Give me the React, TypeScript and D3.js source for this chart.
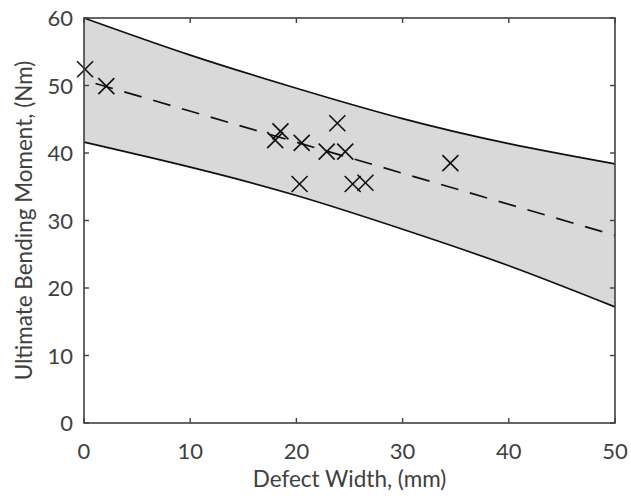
import React from "react";
import * as d3 from "d3";

const bandX = [0, 10, 20, 30, 40, 50];
const upperBound = [60, 54.5, 49.6, 45.1, 41.4, 38.4];
const lowerBound = [41.6, 37.9, 33.7, 28.7, 23.3, 17.2];
const fitX = [0, 50];
const fitY = [50.8, 27.8];
const pointsX = [0.1, 2.1, 18.0, 18.5, 20.5, 23.85, 22.85, 24.6, 20.3, 25.3, 26.5, 34.5];
const pointsY = [52.4, 49.9, 41.9, 43.2, 41.5, 44.4, 40.2, 40.2, 35.4, 35.4, 35.6, 38.5];
const xTicks = [0, 10, 20, 30, 40, 50];
const yTicks = [0, 10, 20, 30, 40, 50, 60];

const W = 631;
const H = 500;
const left = 84;
const right = 615;
const top = 18;
const bottom = 423;

export default function App() {
  const x = d3.scaleLinear().domain([0, 50]).range([left, right]);
  const y = d3.scaleLinear().domain([0, 60]).range([bottom, top]);

  const bandData = bandX.map((v, i) => ({ x: v, lo: lowerBound[i], hi: upperBound[i] }));
  const area = d3
    .area<{ x: number; lo: number; hi: number }>()
    .x((d) => x(d.x))
    .y0((d) => y(d.lo))
    .y1((d) => y(d.hi))
    .curve(d3.curveNatural);
  const upLine = d3
    .line<{ x: number; lo: number; hi: number }>()
    .x((d) => x(d.x))
    .y((d) => y(d.hi))
    .curve(d3.curveNatural);
  const loLine = d3
    .line<{ x: number; lo: number; hi: number }>()
    .x((d) => x(d.x))
    .y((d) => y(d.lo))
    .curve(d3.curveNatural);
  const fitLine = d3
    .line<number>()
    .x((d, i) => x(fitX[i]))
    .y((d) => y(d));

  const axisColor = "#404040";
  const textColor = "#404040";
  const font = "Lato, 'Open Sans', sans-serif";
  const fs = 22.5;
  const tfs = 22;
  const tick = 5;
  const cs = 8;

  return (
    <svg width={W} height={H} style={{ position: "absolute", left: 0, top: 0, background: "#fff" }}>
      <path d={area(bandData) || ""} fill="#d9d9d9" stroke="none" />
      <path d={upLine(bandData) || ""} fill="none" stroke="#111" strokeWidth={1.7} />
      <path d={loLine(bandData) || ""} fill="none" stroke="#111" strokeWidth={1.7} />
      <path
        d={fitLine(fitY) || ""}
        fill="none"
        stroke="#111"
        strokeWidth={1.7}
        strokeDasharray="18,12"
        strokeDashoffset={-12}
      />
      {pointsX.map((px, i) => {
        const cx = x(px);
        const cy = y(pointsY[i]);
        return (
          <g key={i} stroke="#111" strokeWidth={1.6}>
            <line x1={cx - cs} y1={cy - cs} x2={cx + cs} y2={cy + cs} />
            <line x1={cx - cs} y1={cy + cs} x2={cx + cs} y2={cy - cs} />
          </g>
        );
      })}
      <rect
        x={left}
        y={top}
        width={right - left}
        height={bottom - top}
        fill="none"
        stroke={axisColor}
        strokeWidth={1.6}
      />
      {xTicks.map((t) => (
        <g key={"x" + t}>
          <line x1={x(t)} x2={x(t)} y1={bottom} y2={bottom - tick} stroke={axisColor} strokeWidth={1.4} />
          <line x1={x(t)} x2={x(t)} y1={top} y2={top + tick} stroke={axisColor} strokeWidth={1.4} />
          <text x={x(t)} y={459} textAnchor="middle" fontFamily={font} fontSize={tfs} fill={textColor}>
            {t}
          </text>
        </g>
      ))}
      {yTicks.map((t) => (
        <g key={"y" + t}>
          <line x1={left} x2={left + tick} y1={y(t)} y2={y(t)} stroke={axisColor} strokeWidth={1.4} />
          <line x1={right} x2={right - tick} y1={y(t)} y2={y(t)} stroke={axisColor} strokeWidth={1.4} />
          <text x={73} y={y(t) + 8} textAnchor="end" fontFamily={font} fontSize={tfs} fill={textColor}>
            {t}
          </text>
        </g>
      ))}
      <text x={(left + right) / 2} y={487} textAnchor="middle" fontFamily={font} fontSize={fs} fill={textColor}>
        Defect Width, (mm)
      </text>
      <text
        transform={`translate(32, ${(top + bottom) / 2}) rotate(-90)`}
        textAnchor="middle"
        fontFamily={font}
        fontSize={fs}
        fill={textColor}
      >
        Ultimate Bending Moment, (Nm)
      </text>
    </svg>
  );
}
